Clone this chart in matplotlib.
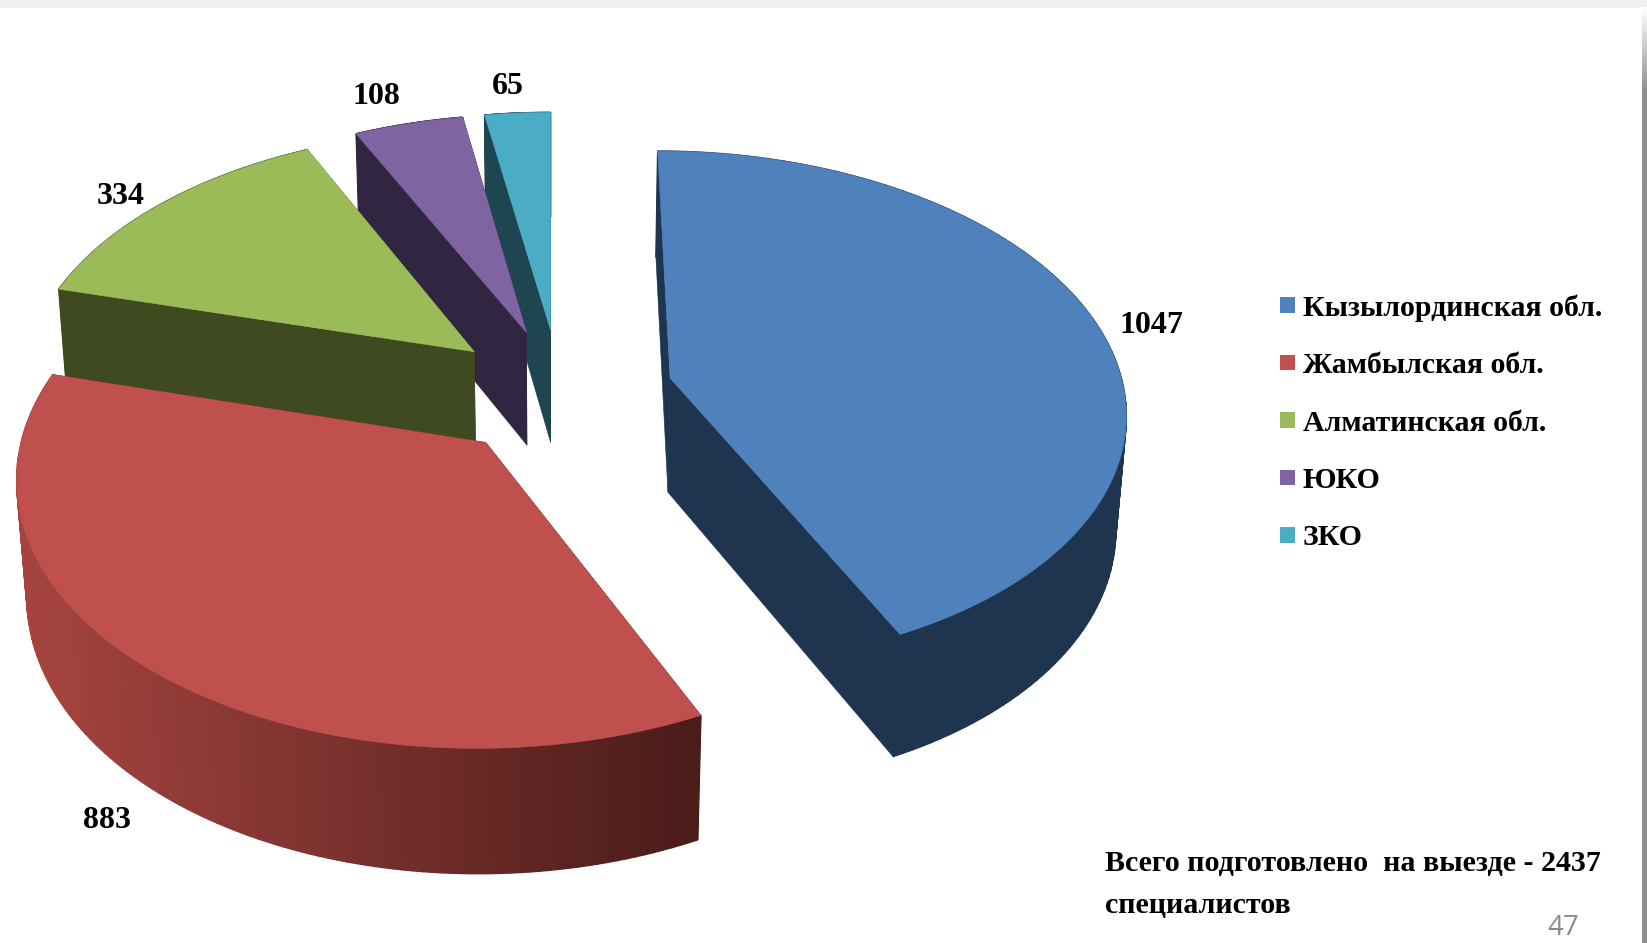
import numpy as np
import matplotlib
matplotlib.use("Agg")
import matplotlib.pyplot as plt
from matplotlib.patches import Polygon, Patch, Rectangle
from matplotlib.colors import to_rgb

# ---- data ----
categories = ["Кызылординская обл.", "Жамбылская обл.", "Алматинская обл.", "ЮКО", "ЗКО"]
values = [1047, 883, 334, 108, 65]
note_lines = ["Всего подготовлено  на выезде - 2437", "специалистов"]
page_number = "47"

# ---- styles ----
top_colors = ["#4F81BD", "#C0504D", "#9BBB59", "#8064A2", "#4BACC6"]
wall_colors = ["#1F344E", "#4A1C1A", "#3F4A20", "#302642", "#1F4550"]
label_xy = [(1096, 310), (102, 781), (115, 187), (358, 92), (483, 82)]
note_y = [822, 862]
FONT = "Liberation Serif"

W, H = 1647, 943
S = W / 1568
VW, VH = 1568, H / S

# perspective camera for the pie plane
X_VP, Y_HORIZON, Y_NADIR, Y_ORIGIN = 525.0, -1700.0, 6300.0, 400.0
P, F, Q = 0.1195, 438.0, 0.019
CENTER = np.array([0.019, 0.108])
EXPLODE = 0.25


def project(u, v, q=0.0):
    w = 1 + P * v + q
    return np.c_[X_VP + F * u / w,
                 (Y_ORIGIN + Y_HORIZON * P * v + Y_NADIR * q) / w]


fig = plt.figure(figsize=(W / 100, H / 100), dpi=100, facecolor="white")
ax = fig.add_axes([0, 0, 1, 1])
ax.set_xlim(0, VW)
ax.set_ylim(VH, 0)
ax.axis("off")

# slide chrome
ax.add_patch(Rectangle((0, 0), VW, 7.5, fc="#EFEFEF", ec="none", zorder=0))
grad = np.linspace(1, 0.56, 80)
grad = np.r_[grad, np.full(400, 0.56)]
ax.imshow(grad[:, None], extent=(1563.5, VW, 480 + 7.5, 7.5), cmap="gray", vmin=0, vmax=1,
          aspect="auto", zorder=0)
ax.add_patch(Rectangle((1563.5, 480), VW, VH, fc="#8F8F8F", ec="none", zorder=0))
ax.set_xlim(0, VW)
ax.set_ylim(VH, 0)

fractions = np.array(values, dtype=float) / sum(values)
edges = np.r_[0, np.cumsum(fractions)] * 2 * np.pi
draw_order = [4, 3, 2, 0, 1]
z = 1


def poly(pts, color, lw=0.4):
    global z
    ax.add_patch(Polygon(pts, closed=True, fc=color, ec=color, lw=lw, zorder=z))
    z += 1


for i in draw_order:
    a0, a1 = edges[i], edges[i + 1]
    mid = (a0 + a1) / 2
    apex = CENTER + EXPLODE * np.array([np.sin(mid), np.cos(mid)])
    th = np.linspace(a0, a1, 121)
    u = apex[0] + np.sin(th)
    v = apex[1] + np.cos(th)
    top = project(u, v)
    bot = project(u, v, Q)
    a_top = project(apex[:1], apex[1:])
    a_bot = project(apex[:1], apex[1:], Q)
    wall = wall_colors[i]
    # radial walls
    poly(np.vstack([a_top, top[0], bot[0], a_bot]), wall)
    poly(np.vstack([a_top, top[-1], bot[-1], a_bot]), wall)
    # outer wall, one facet per step so the outline never folds over itself
    for k in range(len(th) - 1):
        if i == 1:  # shaded outer wall of the large red slice
            t = np.clip((top[k, 0] - 30) / (665 - 30), 0, 1)
            c = (1 - t) * np.array(to_rgb("#A5443F")) + t * np.array(to_rgb("#4A1C1A"))
        else:
            c = wall
        poly(np.vstack([top[k], top[k + 1], bot[k + 1], bot[k]]), c, lw=1.0)
    poly(np.vstack([a_top, top]), top_colors[i])

for v_, (x, y) in zip(values, label_xy):
    ax.text(x, y, str(v_), family=FONT, weight="bold", fontsize=23, ha="center",
            va="center", color="black", zorder=1000)

handles = [Patch(fc=c, ec="none", label=n) for c, n in zip(top_colors, categories)]
leg = ax.legend(handles=handles, loc="upper left", bbox_to_anchor=(1219 / VW, 1 - 280 / VH),
                frameon=False, prop={"family": FONT, "weight": "bold", "size": 21.5},
                handlelength=0.5, handleheight=0.42, handletextpad=0.25,
                labelspacing=1.02, borderpad=0, borderaxespad=0)
leg.set_zorder(1000)

for line, y in zip(note_lines, note_y):
    ax.text(1052, y, line, family=FONT, weight="bold", fontsize=21.6, ha="left", va="center",
            color="black", zorder=1000)
ax.text(1488, VH - 0.5, page_number, family="Open Sans", fontsize=20, ha="center", va="bottom",
        color="#8A8A8A", zorder=1000)

fig.savefig("out.png", dpi=100, facecolor="white")
